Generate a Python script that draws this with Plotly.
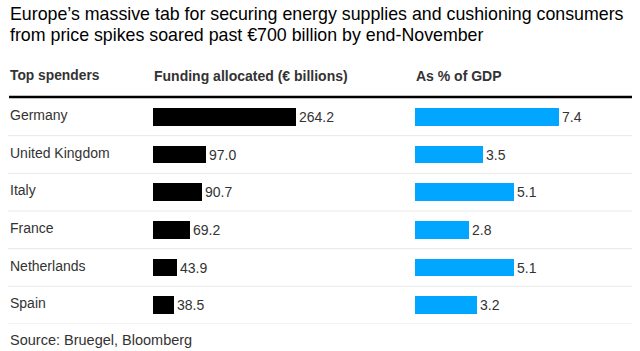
import plotly.graph_objects as go

countries = ["Germany", "United Kingdom", "Italy", "France", "Netherlands", "Spain"]
funding = [264.2, 97.0, 90.7, 69.2, 43.9, 38.5]
gdp_pct = [7.4, 3.5, 5.1, 2.8, 5.1, 3.2]

W, H = 640, 351
FONT = "Liberation Sans"
TXT = "#333333"

def px(x):
    return x / W

def py(y):
    return 1 - y / H

fig = go.Figure()
fig.add_trace(go.Bar(
    x=funding, y=countries, orientation="h", xaxis="x", yaxis="y",
    marker=dict(color="#000000", line=dict(width=0)), width=0.47,
    text=[f"{v:.1f}" for v in funding], textposition="outside",
    textfont=dict(family=FONT, size=14, color=TXT), cliponaxis=False,
))
fig.add_trace(go.Bar(
    x=gdp_pct, y=countries, orientation="h", xaxis="x2", yaxis="y",
    marker=dict(color="#00A6FF", line=dict(width=0)), width=0.47,
    text=[f"{v:.1f}" for v in gdp_pct], textposition="outside",
    textfont=dict(family=FONT, size=14, color=TXT), cliponaxis=False,
))

x1a, x1b = 153, 353
x2a, x2b = 415, 615
scale1 = 143.0 / 264.2
scale2 = 144.0 / 7.4
ytop, ybot = 98, 324

ann = []
for c in countries:
    ann.append(dict(x=px(8), y=c, xref="paper", yref="y", text=c, showarrow=False,
                    xanchor="left", yanchor="middle", yshift=2,
                    font=dict(family=FONT, size=14, color=TXT)))
ann += [
    dict(x=px(8), y=py(14), xref="paper", yref="paper", showarrow=False, xanchor="left", yanchor="middle",
         text="Europe’s massive tab for securing energy supplies and cushioning consumers",
         font=dict(family=FONT, size=17.8, color="#000000")),
    dict(x=px(8), y=py(35), xref="paper", yref="paper", showarrow=False, xanchor="left", yanchor="middle",
         text="from price spikes soared past €700 billion by end-November",
         font=dict(family=FONT, size=17.8, color="#000000")),
    dict(x=px(8), y=py(76), xref="paper", yref="paper", showarrow=False, xanchor="left", yanchor="middle",
         text="<b>Top spenders</b>", font=dict(family=FONT, size=13.8, color=TXT)),
    dict(x=px(152), y=py(76), xref="paper", yref="paper", showarrow=False, xanchor="left", yanchor="middle",
         text="<b>Funding allocated (€ billions)</b>", font=dict(family=FONT, size=14, color=TXT)),
    dict(x=px(414), y=py(76), xref="paper", yref="paper", showarrow=False, xanchor="left", yanchor="middle",
         text="<b>As % of GDP</b>", font=dict(family=FONT, size=14, color=TXT)),
    dict(x=px(8), y=py(340), xref="paper", yref="paper", showarrow=False, xanchor="left", yanchor="middle",
         text="Source: Bruegel, Bloomberg", font=dict(family=FONT, size=14.5, color=TXT)),
]

shapes = [dict(type="line", xref="paper", yref="paper", x0=px(9), x1=px(632), y0=py(97), y1=py(97),
               line=dict(color="#000000", width=2.5))]
for i in range(len(countries)):
    shapes.append(dict(type="line", xref="paper", yref="y", x0=px(8), x1=px(632),
                       y0=i + 0.5, y1=i + 0.5, line=dict(color="#e8e8e8", width=1), layer="below"))

fig.update_layout(
    width=W, height=H, margin=dict(l=0, r=0, t=0, b=0),
    paper_bgcolor="white", plot_bgcolor="white", showlegend=False,
    bargap=0,
    xaxis=dict(domain=[px(x1a), px(x1b)], range=[0, (x1b - x1a) / scale1], visible=False, fixedrange=True),
    xaxis2=dict(domain=[px(x2a), px(x2b)], range=[0, (x2b - x2a) / scale2], visible=False, fixedrange=True),
    yaxis=dict(domain=[py(ybot), py(ytop)], range=[5.5, -0.5], visible=False, fixedrange=True,
               categoryorder="array", categoryarray=countries),
    annotations=ann, shapes=shapes,
)

fig.write_html("out.html", config={"displayModeBar": False})
